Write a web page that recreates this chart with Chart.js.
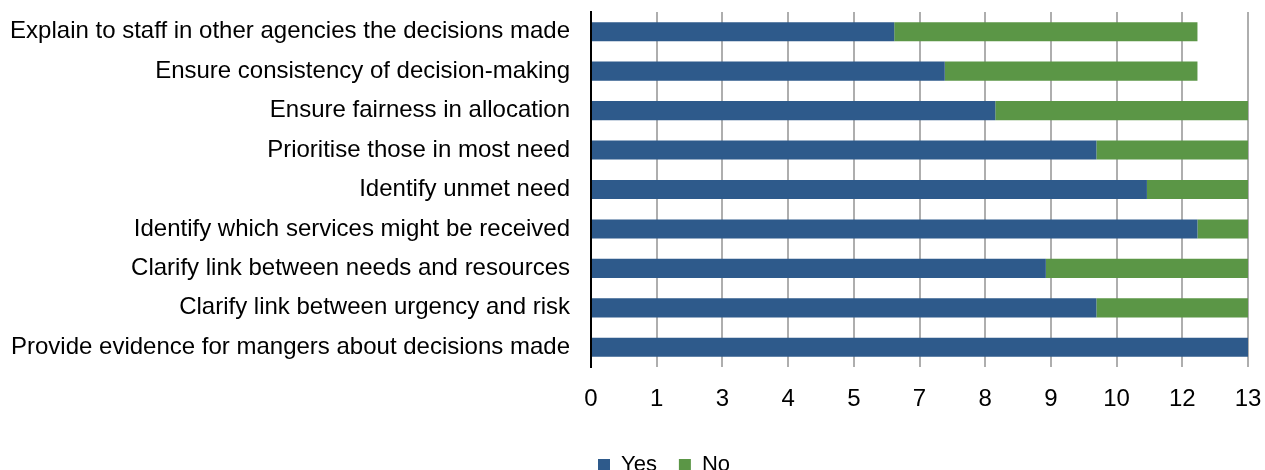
<!DOCTYPE html>
<html>
<head>
<meta charset="utf-8">
<script src="https://cdn.jsdelivr.net/npm/chart.js@4"></script>
<style>
  html, body { margin: 0; padding: 0; background: #fff; }
  #wrap { width: 1265px; height: 470px; position: relative; }
</style>
</head>
<body>
<div id="wrap"><canvas id="c" width="1265" height="470"></canvas></div>
<script>
const categories = [
  "Explain to staff in other agencies the decisions made",
  "Ensure consistency of decision-making",
  "Ensure fairness in allocation",
  "Prioritise those in most need",
  "Identify unmet need",
  "Identify which services might be received",
  "Clarify link between needs and resources",
  "Clarify link between urgency and risk",
  "Provide evidence for mangers about decisions made"
];
const yesValues = [6, 7, 8, 10, 11, 12, 9, 10, 13];
const noValues  = [6, 5, 5, 3, 2, 1, 4, 3, 0];
const seriesNames = ["Yes", "No"];
const axisMin = 0, axisMax = 13, axisStep = 1.3;

const FONT = "'Liberation Sans', Arial, sans-serif";

const legendShift = {
  id: 'legendShift',
  afterLayout(chart) {
    const l = chart.legend;
    if (!l) return;
    const dx = 40;
    l.left += dx; l.right += dx;
    const targetCenter = 459;
    const dy = targetCenter - (l.top + l.height / 2);
    l.top += dy; l.bottom += dy;
  }
};

new Chart(document.getElementById('c'), {
  type: 'bar',
  data: {
    labels: categories,
    datasets: [
      { label: seriesNames[0], data: yesValues, backgroundColor: '#2E5A8B',
        barPercentage: 0.5, categoryPercentage: 0.97 },
      { label: seriesNames[1], data: noValues, backgroundColor: '#5B9646',
        barPercentage: 0.5, categoryPercentage: 0.97 }
    ]
  },
  options: {
    indexAxis: 'y',
    responsive: false,
    animation: false,
    devicePixelRatio: 1,
    layout: { padding: { top: 12, right: 17, left: 0, bottom: 0 } },
    scales: {
      x: {
        stacked: true,
        min: axisMin, max: axisMax,
        afterFit(s) {
          s.height = 470 - 367 - (s.chart.legend ? s.chart.legend.height : 0);
          s.paddingLeft = 0; s.paddingRight = 0;
        },
        ticks: {
          stepSize: axisStep,
          autoSkip: false,
          maxRotation: 0,
          padding: 18,
          color: '#000',
          font: { family: FONT, size: 24 },
          callback: v => String(Math.round(v))
        },
        grid: { color: '#AEAEAE', lineWidth: 2, drawTicks: false },
        border: { display: false }
      },
      y: {
        stacked: true,
        afterFit(s) { s.width = 591; s.paddingTop = 0; s.paddingBottom = 0; },
        ticks: {
          padding: 21,
          color: '#000',
          font: { family: FONT, size: 24 },
          autoSkip: false
        },
        grid: { color: 'rgba(0,0,0,0)', drawTicks: false, z: 1 },
        border: { display: true, color: '#000', width: 2, z: 1 }
      }
    },
    plugins: {
      legend: {
        position: 'bottom',
        labels: {
          boxWidth: 12, boxHeight: 12,
          padding: 22,
          color: '#000',
          font: { family: FONT, size: 22 }
        }
      },
      tooltip: { enabled: false }
    }
  },
  plugins: [legendShift]
});
</script>
</body>
</html>
